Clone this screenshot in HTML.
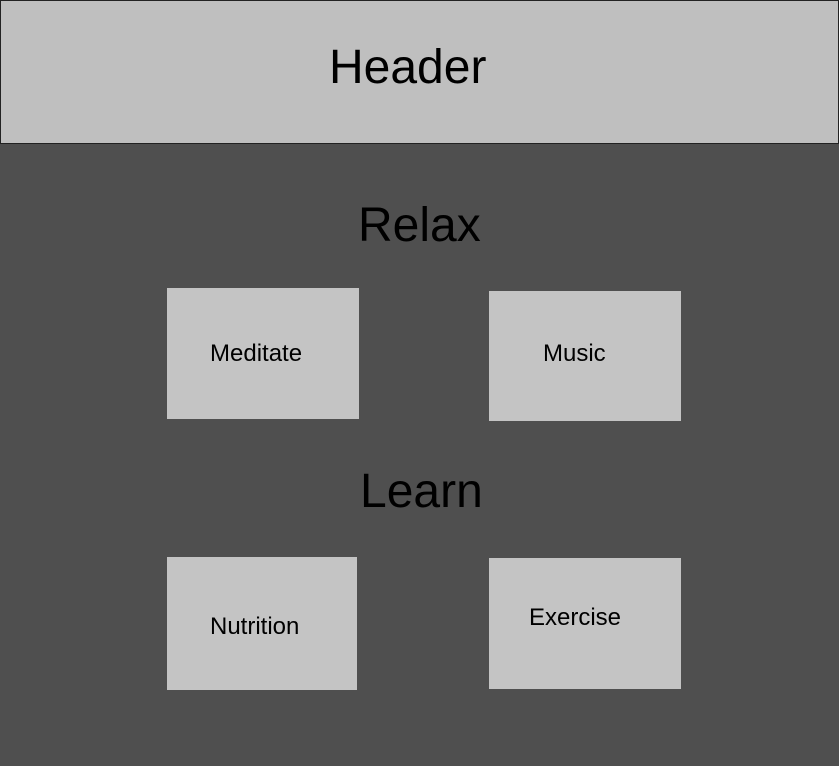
<!DOCTYPE html>
<html><head><meta charset="utf-8"><style>
html,body{margin:0;padding:0;}
body{width:839px;height:766px;background:#4f4f4f;position:relative;overflow:hidden;font-family:"Liberation Sans",sans-serif;color:#000;}
.hdr{position:absolute;left:0;top:0;width:837px;height:142px;background:#bfbfbf;border:1px solid #222;}
.t{position:absolute;white-space:nowrap;}
.b{position:absolute;background:#c4c4c4;}
</style></head><body>
<div class="hdr"></div>
<div class="t" style="left:329px;top:40px;font-size:48px;">Header</div>
<div class="t" style="left:358px;top:198px;font-size:48px;">Relax</div>
<div class="t" style="left:360px;top:464px;font-size:48px;">Learn</div>
<div class="b" style="left:167px;top:288px;width:192px;height:131px;"></div>
<div class="b" style="left:489px;top:291px;width:192px;height:130px;"></div>
<div class="b" style="left:167px;top:557px;width:190px;height:133px;"></div>
<div class="b" style="left:489px;top:558px;width:192px;height:131px;"></div>
<div class="t" style="left:210px;top:340px;font-size:24px;">Meditate</div>
<div class="t" style="left:543px;top:340px;font-size:24px;">Music</div>
<div class="t" style="left:210px;top:613px;font-size:24px;">Nutrition</div>
<div class="t" style="left:529px;top:604px;font-size:24px;">Exercise</div>
</body></html>
